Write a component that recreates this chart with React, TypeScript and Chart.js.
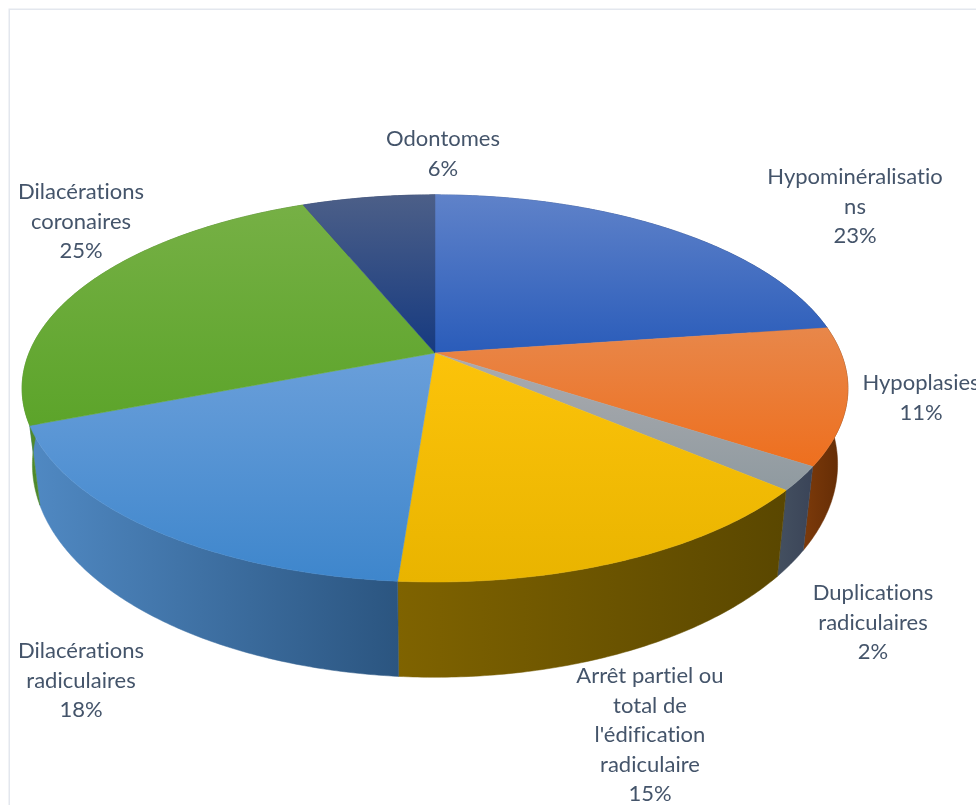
import React, { useEffect, useRef } from "react";
import { Chart, registerables } from "chart.js";

Chart.register(...registerables);

const categories = [
  "Hypominéralisations",
  "Hypoplasies",
  "Duplications radiculaires",
  "Arrêt partiel ou total de l'édification radiculaire",
  "Dilacérations radiculaires",
  "Dilacérations coronaires",
  "Odontomes",
];
const shares = [22.8, 11.4, 2.0, 15.0, 17.9, 24.7, 6.2];
const labelLines = [
  ["Hypominéralisatio", "ns"],
  ["Hypoplasies"],
  ["Duplications", "radiculaires"],
  ["Arrêt partiel ou", "total de", "l'édification", "radiculaire"],
  ["Dilacérations", "radiculaires"],
  ["Dilacérations", "coronaires"],
  ["Odontomes"],
];
const labelAnchors = [
  [855, 177],
  [921, 383],
  [873, 593],
  [650, 676],
  [81, 651],
  [81, 192],
  [443, 139],
];
const topLight = ["#5F82C9", "#E8874A", "#ABABAF", "#FCC30A", "#6A9FDA", "#76B045", "#4C5F88"];
const topDark = ["#2A5CBA", "#EE6F1E", "#8F9AA0", "#E9B400", "#3E86CC", "#5CA42A", "#163A80"];
const sideLight = ["#2A4A8A", "#7C3A0A", "#445060", "#7F6300", "#5089C3", "#4F8A2C", "#1B2F5C"];
const sideDark = ["#1C3566", "#602A05", "#3A4458", "#5A4700", "#2B5580", "#3F7020", "#142448"];

const TEXT_COLOR = "#44546A";
const LINE_HEIGHT = 29.5;
// perspective of the tilted disc
const K = 0.183;
const SX = 1.15;
const SY = 0.53;
const DEPTH = 0.205;
const LOWER_X = 0.975;
const LOWER_Y = 1.1;

const pie3d = {
  id: "pie3d",
  beforeDraw(chart: any) {
    const { ctx } = chart;
    ctx.save();
    ctx.strokeStyle = "#E3E7EE";
    ctx.lineWidth = 1.5;
    ctx.strokeRect(9.25, 9.25, 1100, 1100);
    ctx.restore();
  },
  beforeDatasetDraw(chart: any) {
    const { ctx } = chart;
    const arcs = chart.getDatasetMeta(0).data;
    const first = arcs[0];
    const cx = first.x;
    const cy = first.y;
    const r = first.outerRadius;
    const top = (t: number) => {
      const u = Math.cos(t);
      const v = Math.sin(t);
      const s = 1 / (1 - K * v);
      return [cx + r * SX * u * s, cy + r * SY * v * s];
    };
    const low = (t: number) => {
      const u = Math.cos(t);
      const v = Math.sin(t);
      const s = 1 / (1 - K * v);
      return [cx + r * SX * LOWER_X * u * s, cy + r * DEPTH + r * SY * LOWER_Y * v * s];
    };
    const samples = (a: any) => {
      const out: number[] = [];
      const n = Math.max(4, Math.ceil((a.endAngle - a.startAngle) / 0.01));
      for (let i = 0; i <= n; i++) out.push(a.startAngle + ((a.endAngle - a.startAngle) * i) / n);
      return out;
    };
    // outer walls
    arcs.forEach((a: any, i: number) => {
      const ts = samples(a);
      const up = ts.map(top);
      const dn = ts.map(low);
      const xs = up.concat(dn).map((p: number[]) => p[0]);
      const g = ctx.createLinearGradient(Math.min(...xs), 0, Math.max(...xs), 0);
      g.addColorStop(0, sideLight[i]);
      g.addColorStop(1, sideDark[i]);
      ctx.beginPath();
      up.forEach((p: number[], k: number) => (k ? ctx.lineTo(p[0], p[1]) : ctx.moveTo(p[0], p[1])));
      dn.reverse().forEach((p: number[]) => ctx.lineTo(p[0], p[1]));
      ctx.closePath();
      ctx.fillStyle = g;
      ctx.strokeStyle = g;
      ctx.lineWidth = 0.5;
      ctx.fill();
      ctx.stroke();
    });
    // top faces
    arcs.forEach((a: any, i: number) => {
      const ts = samples(a);
      const up = ts.map(top);
      const ys = up.map((p: number[]) => p[1]).concat([cy]);
      const g = ctx.createLinearGradient(0, Math.min(...ys), 0, Math.max(...ys));
      g.addColorStop(0, topLight[i]);
      g.addColorStop(1, topDark[i]);
      ctx.beginPath();
      ctx.moveTo(cx, cy);
      up.forEach((p: number[]) => ctx.lineTo(p[0], p[1]));
      ctx.closePath();
      ctx.fillStyle = g;
      ctx.strokeStyle = g;
      ctx.lineWidth = 0.5;
      ctx.fill();
      ctx.stroke();
    });
    return false;
  },
  afterDraw(chart: any) {
    const { ctx } = chart;
    ctx.save();
    ctx.fillStyle = TEXT_COLOR;
    ctx.font = '22px Lato, "Open Sans", sans-serif';
    (ctx as any).letterSpacing = "0.01px";
    ctx.textAlign = "center";
    ctx.textBaseline = "middle";
    labelLines.forEach((lines, i) => {
      const [x, y] = labelAnchors[i];
      lines.concat([`${Math.round(shares[i])}%`]).forEach((line, k) => {
        ctx.fillText(line, x, y + k * LINE_HEIGHT);
      });
    });
    ctx.restore();
  },
};

export default function App() {
  const ref = useRef<HTMLCanvasElement | null>(null);
  useEffect(() => {
    if (!ref.current) return;
    const chart = new Chart(ref.current, {
      type: "pie",
      data: {
        labels: categories,
        datasets: [{ data: shares, backgroundColor: topDark, borderWidth: 0 }],
      },
      options: {
        responsive: false,
        maintainAspectRatio: false,
        animation: false,
        layout: { padding: { left: 0, top: 0, right: 106, bottom: 99 } },
        plugins: { legend: { display: false }, tooltip: { enabled: false } },
      } as any,
      plugins: [pie3d as any],
    });
    return () => chart.destroy();
  }, []);
  return (
    <div style={{ position: "absolute", left: 0, top: 0, width: 976, height: 805, background: "#fff", overflow: "hidden" }}>
      <canvas ref={ref} width={976} height={805} style={{ display: "block" }} />
    </div>
  );
}
